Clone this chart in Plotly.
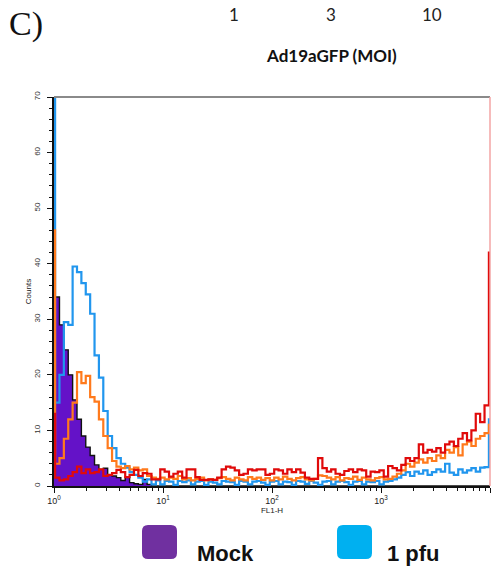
import numpy as np
import plotly.graph_objects as go

# Histogram counts per FL1-H channel bin (bin 0 = underflow, bins 1-99 regular, bin 100 = overflow)
mock = [58, 34, 29, 24.5, 20, 15.5, 12, 9, 7, 5.5,
        3.8, 3, 3.2, 2, 1.8, 1.5, 1, 1.6, 0.6, 0.4,
        0.3, 1.2, 0.3, 0, 0, 0, 0, 0, 0, 0,
        0, 0, 0, 0, 0, 0, 0, 0, 0, 0,
        0, 0, 0, 0, 0, 0, 0, 0, 0, 0,
        0, 0, 0, 0, 0, 0, 0, 0, 0, 0,
        0, 0, 0, 0, 0, 0, 0, 0, 0, 0,
        0, 0, 0, 0, 0, 0, 0, 0, 0, 0,
        0, 0, 0, 0, 0, 0, 0, 0, 0, 0,
        0, 0, 0, 0, 0, 0, 0, 0, 0, 0,
        0]
moi1 = [95, 15, 20, 29.5, 29, 39.5, 38.5, 36.5, 34.5, 31,
        23.5, 19.5, 13.5, 9, 6.8, 5, 4, 3.3, 2.5, 2,
        1.5, 0.8, 1.2, 0.3, 1, 0.3, 0.9, 0.8, 0.2, 0.9,
        0.7, 1, 0.3, 0.8, 0.9, 0.2, 0.8, 0.6, 0.3, 0.9,
        0.8, 0.7, 0.2, 0.9, 0.8, 0.3, 0.8, 0.9, 0.6, 0.2,
        0.8, 0.9, 0.3, 0.8, 0.7, 0.2, 0.9, 0.8, 0.4, 0.9,
        0.6, 0.2, 0.8, 0.9, 0.3, 0.8, 0.9, 0.7, 0.2, 0.8,
        0.9, 0.3, 0.8, 0.7, 0.9, 0.3, 0.8, 0.9, 1.2, 1.5,
        2, 2.5, 1.8, 2.6, 2.2, 2.8, 2, 2.5, 3, 2.6,
        4, 2.4, 2, 3, 2.4, 2.8, 3.2, 2.6, 3.3, 3.4,
        12]
moi3 = [46, 4, 5, 8.5, 12, 15, 20.5, 18.5, 19.8, 16,
        15.2, 12, 9, 6.8, 4.5, 3.5, 3.2, 3.6, 3, 3.3,
        2.8, 3, 1.8, 1.5, 1.3, 1.5, 1.2, 1.5, 1.3, 1.8,
        1.2, 1.4, 1.0, 1.3, 1.5, 1.0, 1.2, 1.1, 1.4, 1.6,
        1.3, 1.0, 1.5, 1.2, 1.0, 1.6, 1.3, 1.5, 1.1, 1.4,
        1.0, 1.5, 1.2, 1.7, 1.3, 1.0, 1.4, 1.6, 1.2, 1.0,
        1.3, 1.9, 1.8, 1.5, 1.2, 1.6, 1.0, 1.4, 1.3, 1.7,
        1.1, 1.5, 1.2, 1.0, 1.4, 1.6, 1.2, 1.3, 1.7, 2.2,
        2.8, 4, 3.5, 4.2, 4.8, 4.2, 5, 4.5, 5.5, 5,
        6.5, 6, 7, 5.5, 7.5, 8, 7.2, 8.5, 9, 9.5,
        11]
moi10 = [13, 1.5, 1, 1.2, 1.8, 2.5, 3.5, 2.3, 3, 2.3,
         2.5, 3, 1.8, 2, 2.3, 2.9, 2.5, 1.6, 2, 2.9,
         1.8, 2.3, 2.2, 1.2, 1.2, 3, 2.6, 1.7, 2.2, 2.6,
         1.5, 3, 3, 1.6, 1.1, 1.1, 1.2, 1.1, 1.5, 3,
         3.5, 3.3, 2.8, 2, 2.2, 3, 2.8, 3, 3, 2,
         2.2, 3, 2.8, 2.2, 3, 2.5, 3, 2.4, 1.5, 1.3,
         1.3, 5, 3.2, 2.6, 3, 2.2, 2, 2.7, 3, 2.5,
         3, 2.8, 1.7, 2.6, 2.5, 2.8, 1.7, 3.6, 3.2, 2.8,
         3.8, 5, 4.5, 5, 7.5, 6, 6.5, 6.2, 6.8, 6,
         7.5, 8, 7.2, 8.5, 9.5, 8.2, 10, 13, 11.5, 14.5,
         42]

x_ticks = [1, 10, 100, 1000, 10000]
x_ticktext = ["10<sup>0</sup>", "10<sup>1</sup>", "10<sup>2</sup>", "10<sup>3</sup>", "10<sup>4</sup>"]
moi_labels = ["1", "3", "10"]
legend_labels = ["Mock", "1 pfu"]

# log10 bin edges: underflow, 99 regular channels, overflow
edges = np.concatenate([[0.0], np.linspace(0.01, 3.99, 100), [4.0]])
xs = 10 ** edges

W, H = 493, 573
L, R, T, B = 54, 3, 97, 87
PW = W - L - R
PH = H - T - B


def px(x):
    return (x - L) / PW


def py(y):
    return (H - B - y) / PH


def step(vals):
    return list(vals) + [vals[-1]]


fig = go.Figure()
fig.add_trace(go.Scatter(x=xs, y=step(mock), mode="lines", line_shape="hv",
                         line=dict(color="#111111", width=1.4),
                         fill="tozeroy", fillcolor="#6412C8", name="Mock"))
fig.add_trace(go.Scatter(x=xs, y=step(moi1), mode="lines", line_shape="hv",
                         line=dict(color="#2196EE", width=2.2), name="1"))
fig.add_trace(go.Scatter(x=xs, y=step(moi3), mode="lines", line_shape="hv",
                         line=dict(color="#FF7A1C", width=2.2), name="3"))
fig.add_trace(go.Scatter(x=xs, y=step(moi10), mode="lines", line_shape="hv",
                         line=dict(color="#E00A0A", width=2.2), name="10"))

minor_x = [m * 10 ** d for d in range(4) for m in range(2, 10)]

fig.update_layout(
    width=W, height=H,
    margin=dict(l=L, r=R, t=T, b=B, pad=0),
    paper_bgcolor="white", plot_bgcolor="white",
    showlegend=False,
    font=dict(family="Liberation Sans, Arial, sans-serif", color="#222"),
    xaxis=dict(type="log", range=[0, 4], tickmode="array", tickvals=x_ticks, ticktext=x_ticktext,
               ticks="outside", ticklen=5, tickwidth=1, tickcolor="#111",
               showline=True, linecolor="#111", linewidth=2, showgrid=False, zeroline=False,
               minor=dict(tickmode="array", tickvals=minor_x, ticks="outside", ticklen=3,
                          tickcolor="#111", tickwidth=1, showgrid=False),
               tickfont=dict(size=9, color="#222"),
               title=dict(text="FL1-H", font=dict(size=8, color="#222"), standoff=0)),
    yaxis=dict(range=[0, 70], dtick=10, tick0=0, tickangle=-90,
               ticks="outside", ticklen=5, tickwidth=1, tickcolor="#111",
               showline=True, linecolor="#111", linewidth=2, showgrid=False, zeroline=False,
               minor=dict(dtick=2, ticks="outside", ticklen=3, tickcolor="#111", tickwidth=1,
                          showgrid=False),
               tickfont=dict(size=8, color="#333"), ticklabelstandoff=4,
               title=dict(text="Counts", font=dict(size=8, color="#222"), standoff=0)),
)

shapes = [
    dict(type="line", xref="paper", yref="paper", x0=0, x1=1, y0=1, y1=1,
         line=dict(color="#8a8a8a", width=2)),
    dict(type="line", xref="paper", yref="paper", x0=1, x1=1, y0=0, y1=1,
         line=dict(color="#f3a5a5", width=1.5)),
]


def rounded(x0, y0, x1, y1, r, color):
    p = (f"M {px(x0 + r)},{py(y0)} L {px(x1 - r)},{py(y0)} Q {px(x1)},{py(y0)} {px(x1)},{py(y0 + r)} "
         f"L {px(x1)},{py(y1 - r)} Q {px(x1)},{py(y1)} {px(x1 - r)},{py(y1)} "
         f"L {px(x0 + r)},{py(y1)} Q {px(x0)},{py(y1)} {px(x0)},{py(y1 - r)} "
         f"L {px(x0)},{py(y0 + r)} Q {px(x0)},{py(y0)} {px(x0 + r)},{py(y0)} Z")
    return dict(type="path", xref="paper", yref="paper", path=p,
                fillcolor=color, line=dict(width=0))


shapes.append(rounded(142, 525, 177, 559, 6, "#7030A0"))
shapes.append(rounded(337, 525, 372, 559, 6, "#00B0F0"))
fig.update_layout(shapes=shapes)

ann = [
    dict(text="C)", x=px(7), y=py(24), xanchor="left", yanchor="middle",
         font=dict(family="Liberation Serif, Times New Roman, serif", size=34, color="#111")),
    dict(text="Ad19aGFP (MOI)", x=px(331), y=py(56), xanchor="center", yanchor="middle",
         font=dict(family="Lato, sans-serif", size=17, color="#111", weight="bold")),
    dict(text=legend_labels[0], x=px(195), y=py(553), xanchor="left", yanchor="middle",
         font=dict(family="Liberation Sans, Arial, sans-serif", size=22, color="#111", weight="bold")),
    dict(text=legend_labels[1], x=px(385), y=py(553), xanchor="left", yanchor="middle",
         font=dict(family="Liberation Sans, Arial, sans-serif", size=22, color="#111", weight="bold")),
]
for lab, cx in zip(moi_labels, [234, 331, 432]):
    ann.append(dict(text=lab, x=px(cx), y=py(14), xanchor="center", yanchor="middle",
                    font=dict(family="Lato, sans-serif", size=17, color="#222")))
for a in ann:
    a.update(xref="paper", yref="paper", showarrow=False)
fig.update_layout(annotations=ann)

fig.write_html("out.html")
